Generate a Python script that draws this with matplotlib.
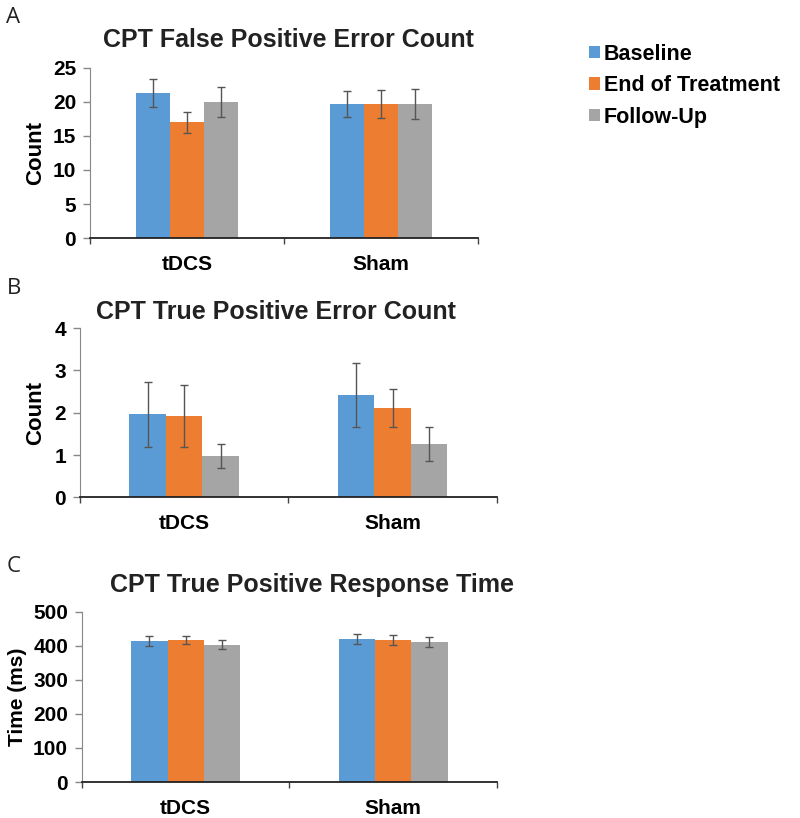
import matplotlib
matplotlib.use('Agg')
import matplotlib.pyplot as plt
from matplotlib.patches import Patch
import numpy as np

plt.rcParams['font.family'] = ['Liberation Sans', 'DejaVu Sans']
plt.rcParams['font.weight'] = 'bold'

groups = ['tDCS', 'Sham']
series = ['Baseline', 'End of Treatment', 'Follow-Up']
colors = ['#5B9BD5', '#ED7D31', '#A5A5A5']

# panel A: false positive error count
fp_mean = [[21.3, 19.7], [17.0, 19.7], [20.0, 19.7]]
fp_err = [[2.0, 1.9], [1.5, 2.0], [2.2, 2.2]]
# panel B: true positive error count
tp_mean = [[1.96, 2.41], [1.92, 2.10], [0.97, 1.27]]
tp_err = [[0.76, 0.76], [0.73, 0.45], [0.28, 0.40]]
# panel C: true positive response time
rt_mean = [[415, 421], [418, 418], [404, 412]]
rt_err = [[14, 15], [12, 15], [12, 14]]

panels = [
    dict(letter='A', title='CPT False Positive Error Count', ylabel='Count', ylab_size=16,
         mean=fp_mean, err=fp_err, ymax=25, step=5, ylab_x=-0.113,
         rect=[0.1125, 0.709, 0.485, 0.208], title_xy=(0.36, 0.951), letter_y=0.992),
    dict(letter='B', title='CPT True Positive Error Count', ylabel='Count', ylab_size=16,
         mean=tp_mean, err=tp_err, ymax=4, step=1, ylab_x=-0.082,
         rect=[0.100, 0.392, 0.521, 0.207], title_xy=(0.345, 0.619), letter_y=0.660),
    dict(letter='C', title='CPT True Positive Response Time', ylabel='Time (ms)', ylab_size=15,
         mean=rt_mean, err=rt_err, ymax=500, step=100, ylab_x=-0.132,
         rect=[0.1025, 0.044, 0.5185, 0.208], title_xy=(0.39, 0.285), letter_y=0.320),
]

fig = plt.figure(figsize=(8, 8.18), dpi=100)
x = np.array([0.5, 1.5])
w = 0.175

for p in panels:
    ax = fig.add_axes(p['rect'])
    for i, s in enumerate(series):
        ax.bar(x + (i - 1) * w, p['mean'][i], width=w, color=colors[i],
               yerr=p['err'][i], error_kw=dict(ecolor='#555555', elinewidth=1,
                                               capsize=3, capthick=1))
    ax.set_xlim(0, 2)
    ax.set_ylim(0, p['ymax'])
    ax.set_yticks(np.arange(0, p['ymax'] + p['step'] / 2, p['step']))
    ax.set_xticks([0, 1, 2])
    ax.set_xticklabels([])
    ax.set_xticks(x, minor=True)
    ax.set_xticklabels(groups, minor=True)
    ax.tick_params(axis='x', which='minor', length=0, pad=12, labelsize=15)
    ax.tick_params(axis='x', which='major', length=4, width=1, color='#444444')
    ax.tick_params(axis='y', length=5, width=1, color='#888888', labelsize=15, pad=5)
    ax.spines['top'].set_visible(False)
    ax.spines['right'].set_visible(False)
    ax.spines['bottom'].set_color('#222222')
    ax.spines['bottom'].set_linewidth(1.3)
    ax.spines['left'].set_color('#888888')
    ax.set_ylabel(p['ylabel'], fontsize=p['ylab_size'], fontweight='bold')
    ax.yaxis.set_label_coords(p['ylab_x'], 0.5)
    fig.text(p['title_xy'][0], p['title_xy'][1], p['title'], fontsize=18,
             fontweight='bold', ha='center', va='center', color='#222222')
    fig.text(0.008, p['letter_y'], p['letter'], fontsize=16, fontweight='normal',
             ha='left', va='top', family=['Open Sans', 'DejaVu Sans'], color='#222222')

handles = [Patch(facecolor=c, edgecolor='none') for c in colors]
fig.legend(handles, series, loc='upper left', bbox_to_anchor=(0.712, 0.97),
           frameon=False, handlelength=0.5, handleheight=0.5,
           handletextpad=0.2, labelspacing=0.48, prop=dict(weight='bold', size=15.5))

plt.savefig('out.png', dpi=100)
